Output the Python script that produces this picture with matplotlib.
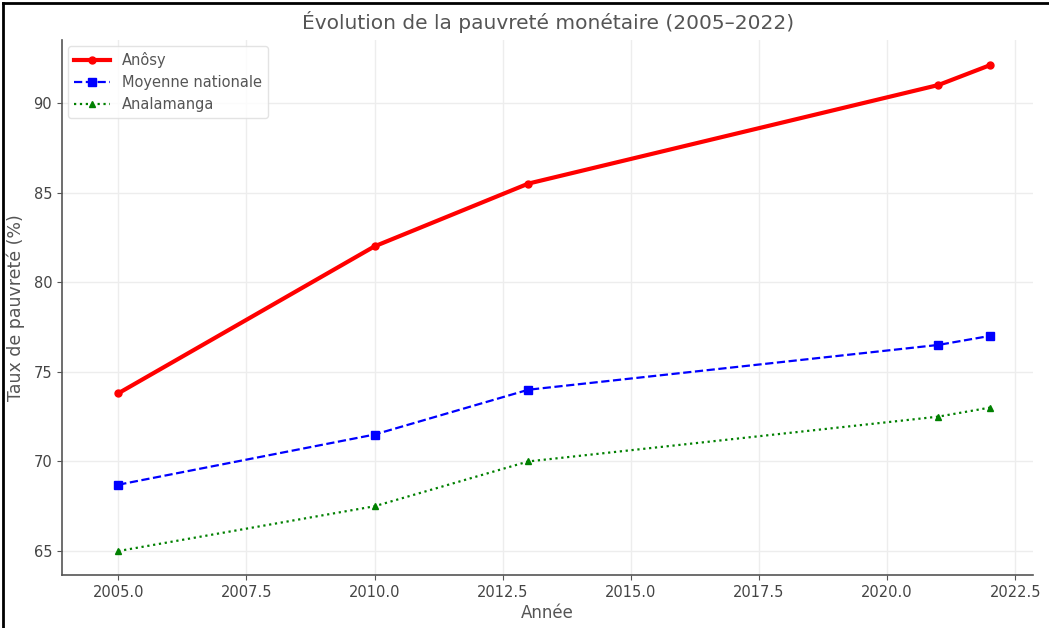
import matplotlib
matplotlib.use("Agg")
import matplotlib.pyplot as plt
from matplotlib.lines import Line2D

# data
annees = [2005, 2010, 2013, 2021, 2022]
anosy = [73.8, 82.0, 85.5, 91.0, 92.1]
moyenne_nationale = [68.7, 71.5, 74.0, 76.5, 77.0]
analamanga = [65.0, 67.5, 70.0, 72.5, 73.0]

plt.rcParams.update({
    "font.family": ["DejaVu Sans"],
    "font.size": 10.5,
})

fig = plt.figure(figsize=(10.49, 6.28), dpi=100)
ax = fig.add_axes([0.059, 0.084, 0.926, 0.852])

ax.plot(annees, anosy, color="red", linestyle="-", linewidth=3,
        marker="o", markersize=5, label="Anôsy")
ax.plot(annees, moyenne_nationale, color="blue", linestyle="--", linewidth=1.6,
        marker="s", markersize=6, label="Moyenne nationale")
ax.plot(annees, analamanga, color="green", linestyle=":", linewidth=1.6,
        marker="^", markersize=5, label="Analamanga")

ax.set_xlim(2003.9, 2022.85)
ax.set_ylim(63.65, 93.5)
ax.set_xticks([2005, 2007.5, 2010, 2012.5, 2015, 2017.5, 2020, 2022.5])
ax.set_xticklabels(["2005.0", "2007.5", "2010.0", "2012.5", "2015.0",
                    "2017.5", "2020.0", "2022.5"])
ax.set_yticks([65, 70, 75, 80, 85, 90])

ax.set_title("Évolution de la pauvreté monétaire (2005–2022)",
             fontsize=14.5, color="#555555", pad=8)
ax.set_xlabel("Année", fontsize=12, color="#555555", labelpad=3)
ax.set_ylabel("Taux de pauvreté (%)", fontsize=12.5, color="#555555", labelpad=6)

ax.grid(color="#ededed", linewidth=1)
ax.set_axisbelow(True)
for side in ("top", "right"):
    ax.spines[side].set_visible(False)
for side in ("left", "bottom"):
    ax.spines[side].set_color("#555555")
    ax.spines[side].set_linewidth(1.2)
ax.tick_params(colors="#555555", labelcolor="#444444", labelsize=10.5)

ax.legend(loc="upper left", fontsize=10.5, frameon=True, edgecolor="#dddddd",
          labelcolor="#555555", handlelength=2.5, borderaxespad=0.4)

# screenshot frame on the left and top
fig.add_artist(Line2D([0.003, 0.003], [0.0, 0.996], transform=fig.transFigure,
                      color="black", linewidth=2))
fig.add_artist(Line2D([0.003, 1.0], [0.996, 0.996], transform=fig.transFigure,
                      color="black", linewidth=2))

fig.savefig("out.png", dpi=100)
